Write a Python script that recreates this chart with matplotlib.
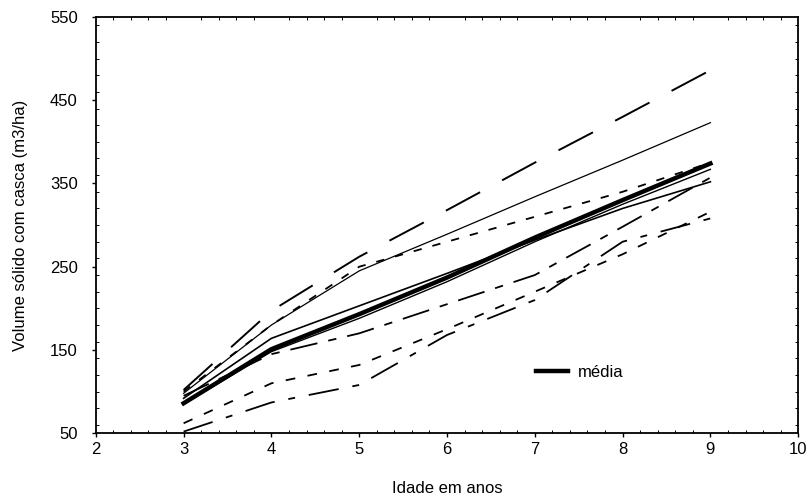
import matplotlib
matplotlib.use("Agg")
import matplotlib.pyplot as plt
from matplotlib.ticker import MultipleLocator

plt.rcParams['font.family'] = ['Liberation Sans', 'DejaVu Sans']
plt.rcParams['lines.scale_dashes'] = False

idade = [3, 4, 5, 6, 7, 8, 9]

serie_longa = [102, 197, 262, 318, 375, 430, 486]
serie_fina = [98, 180, 245, 289, 334, 378, 423]
serie_trac_sup = [100, 180, 250, 280, 310, 340, 375]
media = [86, 151, 193, 237, 285, 330, 374]
serie_solida = [92, 164, 203, 242, 282, 320, 352]
serie_solida2 = [85, 148, 188, 232, 280, 325, 367]
serie_ponto = [95, 145, 170, 205, 240, 298, 357]
serie_trac_inf = [62, 110, 132, 175, 220, 265, 316]
serie_longa_inf = [52, 87, 108, 168, 210, 280, 308]

xticks = [2, 3, 4, 5, 6, 7, 8, 9, 10]
yticks = [50, 150, 250, 350, 450, 550]

fig = plt.figure(figsize=(8.12, 4.98), dpi=100)
ax = fig.add_axes([0.118, 0.130, 0.865, 0.836])

k = 'black'
ax.plot(idade, serie_longa, color=k, lw=1.4, dashes=(28, 18))
ax.plot(idade, serie_fina, color=k, lw=0.9)
ax.plot(idade, serie_trac_sup, color=k, lw=1.3, dashes=(6, 8))
ax.plot(idade, serie_solida, color=k, lw=1.2)
ax.plot(idade, serie_solida2, color=k, lw=1.0)
ax.plot(idade, serie_ponto, color=k, lw=1.3, dashes=(20, 8, 6, 8))
ax.plot(idade, serie_trac_inf, color=k, lw=1.3, dashes=(7, 9))
ax.plot(idade, serie_longa_inf, color=k, lw=1.3, dashes=(22, 10, 5, 10))
ax.plot(idade, media, color=k, lw=3.2, label='média')

ax.set_xlim(2, 10)
ax.set_ylim(50, 550)
ax.set_xticks(xticks)
ax.set_yticks(yticks)
ax.xaxis.set_minor_locator(MultipleLocator(0.2))
ax.yaxis.set_minor_locator(MultipleLocator(20))
ax.tick_params(which='major', direction='out', length=3, width=1, labelsize=12)
ax.tick_params(axis='y', which='major', pad=10)
ax.tick_params(which='minor', direction='in', length=2, width=0.7, top=True, right=True)
for s in ax.spines.values():
    s.set_linewidth(1.3)

ax.set_xlabel('Idade em anos', fontsize=12, labelpad=17)
ax.set_ylabel('Volume sólido com casca (m3/ha)', fontsize=12, labelpad=16)

ax.legend(loc='center left', bbox_to_anchor=(0.627, 0.147), frameon=False,
          fontsize=12, handlelength=1.9, handletextpad=0.6, borderpad=0,
          borderaxespad=0)

fig.savefig('out.png', dpi=100)
